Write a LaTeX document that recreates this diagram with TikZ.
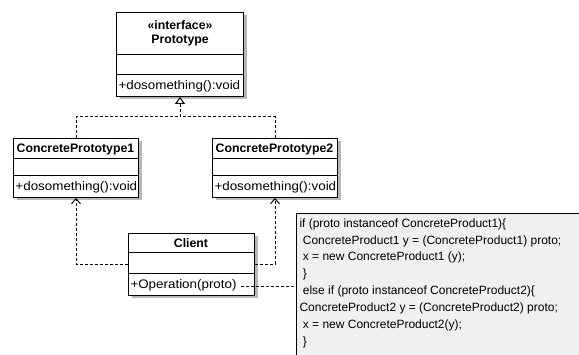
\documentclass[tikz,border=0pt]{standalone}
\usepackage{fontspec}
\setmainfont{Liberation Sans}
\newfontfamily\umlfont[FakeStretch=1.08]{Liberation Sans}
\usepackage{tikz}
\usetikzlibrary{calc}
\usetikzlibrary{arrows.meta}
\usetikzlibrary{positioning}
\usetikzlibrary{shadows}
\tikzset{>=latex}
\tikzstyle{classbox} = [rectangle, draw=black, fill=white, inner sep=0pt, anchor=north west, general shadow={shadow xshift=3pt, shadow yshift=-3pt, fill=black!28}]
\tikzstyle{member} = [inner sep=0pt, anchor=west, font=\umlfont\fontsize{12.4}{14}\selectfont]
\tikzstyle{cname} = [inner sep=0pt, font=\bfseries\fontsize{12.3}{14}\selectfont]
\tikzstyle{realize} = [dash pattern=on 3pt off 2pt, -{Triangle[open, length=7pt, width=10pt, line width=1pt]}]
\tikzstyle{depend} = [dash pattern=on 3pt off 2pt, -{Straight Barb[length=5pt, width=9pt, line width=1pt]}]
\tikzstyle{notebox} = [rectangle, draw=black, fill=black!6, anchor=north west, inner sep=0pt]

\begin{document}
\begin{tikzpicture}[x=1pt, y=-1pt, line width=1pt]
\clip (0,0) rectangle (579,355);
\fill[white] (0,0) rectangle (579,355);
\node [classbox, minimum width=127pt, minimum height=84pt] (proto) at (116,12) {};
\draw (proto.west |- 0,55) -- (proto.east |- 0,55);
\draw (proto.west |- 0,75) -- (proto.east |- 0,75);
\node [cname] (protoS) at (180,25) {«interface»};
\node [cname] (protoN) at (180,41) {Prototype};
\node [member] (protoM) at (118,86) {+dosomething():void};
\node [classbox, minimum width=125pt, minimum height=59pt] (cp1) at (13,138) {};
\draw (cp1.west |- 0,159) -- (cp1.east |- 0,159);
\draw (cp1.west |- 0,176) -- (cp1.east |- 0,176);
\node [cname] (cp1N) at (75.5,149) {ConcretePrototype1};
\node [member] (cp1M) at (15,187) {+dosomething():void};
\node [classbox, minimum width=125pt, minimum height=59pt] (cp2) at (212,138) {};
\draw (cp2.west |- 0,159) -- (cp2.east |- 0,159);
\draw (cp2.west |- 0,176) -- (cp2.east |- 0,176);
\node [cname] (cp2N) at (274.5,149) {ConcretePrototype2};
\node [member] (cp2M) at (214,187) {+dosomething():void};
\node [classbox, minimum width=126pt, minimum height=62pt] (client) at (128,233) {};
\draw (client.west |- 0,253) -- (client.east |- 0,253);
\draw (client.west |- 0,274) -- (client.east |- 0,274);
\node [cname] (clientN) at (191,243) {Client};
\node [member] (clientM) at (130,285) {+Operation(proto)};
\node [notebox, minimum width=300pt, minimum height=160pt] (note) at (296,213) {};
\node [inner sep=0pt, anchor=north west, align=left, font=\fontsize{12}{16.9}\selectfont] (code) at (299,218) {if (proto instanceof ConcreteProduct1)\{\\
\ ConcreteProduct1 y = (ConcreteProduct1) proto;\\
\ x = new ConcreteProduct1 (y);\\
\ \}\\
\ else if (proto instanceof ConcreteProduct2)\{\\
ConcreteProduct2 y = (ConcreteProduct2) proto;\\
\ x = new ConcreteProduct2(y);\\
\ \}};
\coordinate (join) at (180,117);
\coordinate (op) at (241,287);
\draw [realize] (cp1.north) |- (join) -- (proto.south);
\draw [dash pattern=on 3pt off 2pt] (cp2.north) |- (join);
\draw [depend] (client.west) -| (cp1.south);
\draw [depend] (client.east) -| (cp2.south);
\draw [dash pattern=on 3pt off 2pt] (op) -- (note.west |- op);
\end{tikzpicture}
\end{document}
